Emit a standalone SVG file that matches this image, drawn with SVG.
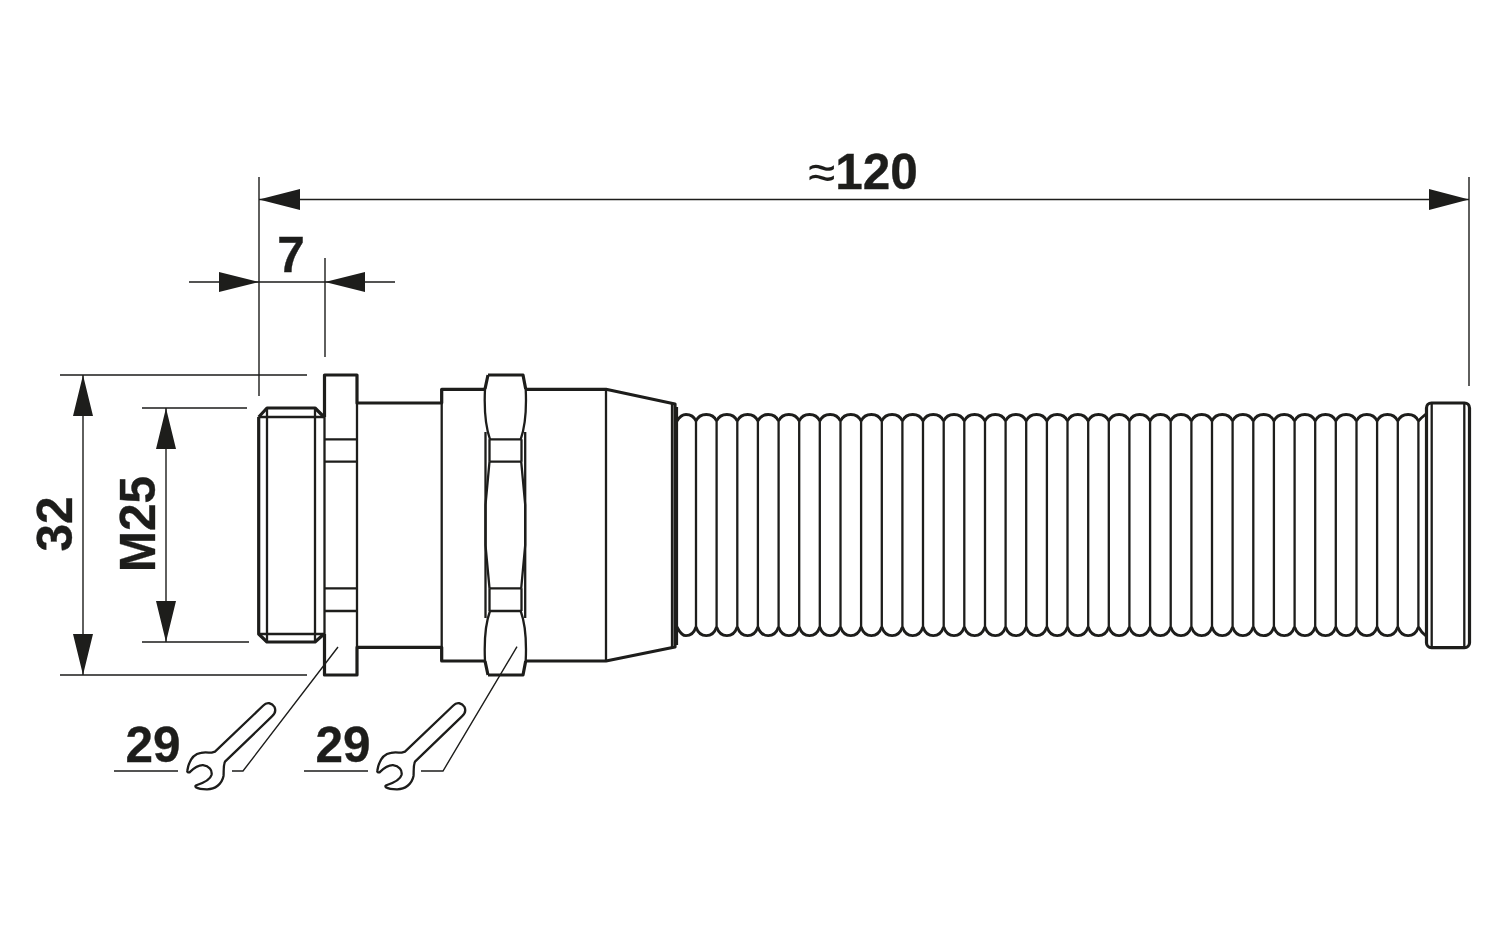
<svg xmlns="http://www.w3.org/2000/svg" xmlns:xlink="http://www.w3.org/1999/xlink" width="1500" height="937" viewBox="0 0 1500 937">
<style>
.k{fill:none;stroke:#1d1d1b;stroke-width:3.2;stroke-linejoin:round}
.r{fill:none;stroke:#1d1d1b;stroke-width:2.8;stroke-linejoin:round}
.m{fill:none;stroke:#1d1d1b;stroke-width:2.3}
.t{fill:none;stroke:#1d1d1b;stroke-width:1.4}
.a{fill:#1d1d1b}
.x{font-family:"Liberation Sans",Arial,sans-serif;font-weight:700;font-size:49.5px;fill:#1d1d1b;stroke:#1d1d1b;stroke-width:0.35}
</style>
<defs>
<path id="wr" class="m" stroke-linejoin="round" d="M187.3,770.7C189,760 193,754 201,752.8C205,752 208,752.6 211.7,752.7L215,751.7L263.3,705.5C267,701.5 272,703 274.5,707C276,710.5 275,714 271.7,716.7L225,761.7C223,766 224,772 223.5,776C222,784 215,789.5 206.7,789.3C202,789.3 198,788.5 195.8,787.2C195,786 195.5,785.5 197,785C203,783 210,780.5 211.5,775C212.5,770 209,766 203,765.2C198,765 194,768 189.5,772.3C188,772.8 187,772 187.3,770.7Z"/>
<path id="rib" class="r" d="M0,421C2,416.5 6,414.5 10.3,414.5C14.6,414.5 18.6,416.5 20.6,421M0,627C2,633 6,635.7 10.3,635.7C14.6,635.7 18.6,633 20.6,627"/>
</defs>
<g id="body">
<path class="k" d="M258.7,417V634L267,642H315L324,634M258.7,417L267,408H315L324,417"/>
<path class="m" d="M259,417H324M267,408V642M315,408V642M259,634H324"/>
<path class="k" d="M324.5,417V375H357V403H441.7V389.3H606L675,404V647L606,661H441.7V647.3H357V675H324.5V634"/>
<path class="m" d="M324.5,417V634M357,403V647M324.5,439.3H357M324.5,461.7H357M324.5,588.3H357M324.5,611H357M441.7,389.3V661M606,389.3V661"/>
<path fill="#fff" stroke="none" d="M488,375H523L526,389V661L523,675H488L485,661V389Z"/>
<path class="k" d="M488,375H523L525.7,389M485,389L488,375M488,675H523L525.7,661M485,661L488,675"/>
<path class="m" d="M489.5,439.3H521.5M489.5,461.7H521.5M489.5,588.3H521.5M489.5,611H521.5M489.5,439.3V461.7M521.5,439.3V461.7M489.5,588.3V611M521.5,588.3V611"/>
<path class="m" d="M485,389C484,410 486,428 490,439.3M525.7,389C526.7,410 524.7,428 520.7,439.3M485,661C484,640 486,622 490,611M525.7,661C526.7,640 524.7,622 520.7,611"/>
<path class="m" d="M485.5,432V618M525.2,432V618"/>
<path class="m" d="M489.5,461.7L485.5,505V545L489.5,588.3M521.2,461.7L525.2,505V545L521.2,588.3"/>
<path class="m" d="M672,404V647"/>
<path class="k" d="M676.5,407V645"/>
</g>
<g id="hose">
<g id="ribs">
<path class="r" d="M677,421C680,416 683,414.5 686,414.5C690,414.5 694,416.5 696,421M677,627C680,633 683,635.7 686,635.7C690,635.7 694,633 696,627"/>
<use xlink:href="#rib" x="696"/><use xlink:href="#rib" x="716.6"/><use xlink:href="#rib" x="737.3"/><use xlink:href="#rib" x="757.9"/><use xlink:href="#rib" x="778.6"/><use xlink:href="#rib" x="799.2"/><use xlink:href="#rib" x="819.8"/><use xlink:href="#rib" x="840.5"/><use xlink:href="#rib" x="861.1"/><use xlink:href="#rib" x="881.8"/><use xlink:href="#rib" x="902.4"/><use xlink:href="#rib" x="923"/><use xlink:href="#rib" x="943.7"/><use xlink:href="#rib" x="964.3"/><use xlink:href="#rib" x="985"/><use xlink:href="#rib" x="1005.6"/><use xlink:href="#rib" x="1026.2"/><use xlink:href="#rib" x="1046.9"/><use xlink:href="#rib" x="1067.5"/><use xlink:href="#rib" x="1088.2"/><use xlink:href="#rib" x="1108.8"/><use xlink:href="#rib" x="1129.4"/><use xlink:href="#rib" x="1150.1"/><use xlink:href="#rib" x="1170.7"/><use xlink:href="#rib" x="1191.4"/><use xlink:href="#rib" x="1212"/><use xlink:href="#rib" x="1232.6"/><use xlink:href="#rib" x="1253.3"/><use xlink:href="#rib" x="1273.9"/><use xlink:href="#rib" x="1294.6"/><use xlink:href="#rib" x="1315.2"/><use xlink:href="#rib" x="1335.8"/><use xlink:href="#rib" x="1356.5"/><use xlink:href="#rib" x="1377.1"/><use xlink:href="#rib" x="1397.8"/>
<path class="r" d="M1418.4,421Q1421,418 1426,414M1418.4,627Q1421,632 1426,636"/>
<path class="m" d="M696,421V627M716.6,421V627M737.3,421V627M757.9,421V627M778.6,421V627M799.2,421V627M819.8,421V627M840.5,421V627M861.1,421V627M881.8,421V627M902.4,421V627M923,421V627M943.7,421V627M964.3,421V627M985,421V627M1005.6,421V627M1026.2,421V627M1046.9,421V627M1067.5,421V627M1088.2,421V627M1108.8,421V627M1129.4,421V627M1150.1,421V627M1170.7,421V627M1191.4,421V627M1212,421V627M1232.6,421V627M1253.3,421V627M1273.9,421V627M1294.6,421V627M1315.2,421V627M1335.8,421V627M1356.5,421V627M1377.1,421V627M1397.8,421V627M1418.4,421V627"/>
</g>
<g id="cap">
<rect class="k" x="1426.5" y="403" width="43" height="244.7" rx="5"/>
<path class="m" d="M1431.7,403V647.7M1464.3,403V647.7"/>
</g>
</g>
<g id="dimensions">
<path class="t" d="M259,177V396M1469,177V386M259,199.5H1469M189,282H395M325,258V357M60,375H307M60,675H307M142,408H247M142,642H249M83,375V675M166,408V642"/>
<path class="a" d="M259,199.5L300,189V210ZM1469,199.5L1429,189V210ZM259,282L219,272V292ZM325,282L365,272V292ZM83,375L73,416H93ZM83,675L73,634H93ZM166,408L156,449H176ZM166,642L156,601H176Z"/>
<text class="x" x="863" y="189" text-anchor="middle"><tspan font-weight="400" stroke="none">≈</tspan>120</text>
<text class="x" x="291" y="272" text-anchor="middle">7</text>
<text class="x" transform="translate(72,524) rotate(-90)" text-anchor="middle">32</text>
<text class="x" transform="translate(155,524) rotate(-90)" text-anchor="middle">M25</text>
</g>
<g id="wrench-1">
<text class="x" x="153" y="762" text-anchor="middle">29</text>
<path class="t" d="M114,771H178M232,771H243L338,647"/>
<use xlink:href="#wr"/>
</g>
<g id="wrench-2">
<text class="x" x="343" y="762" text-anchor="middle">29</text>
<path class="t" d="M304,771H368M421,771H443L517,646.7"/>
<use xlink:href="#wr" x="190"/>
</g>
</svg>
